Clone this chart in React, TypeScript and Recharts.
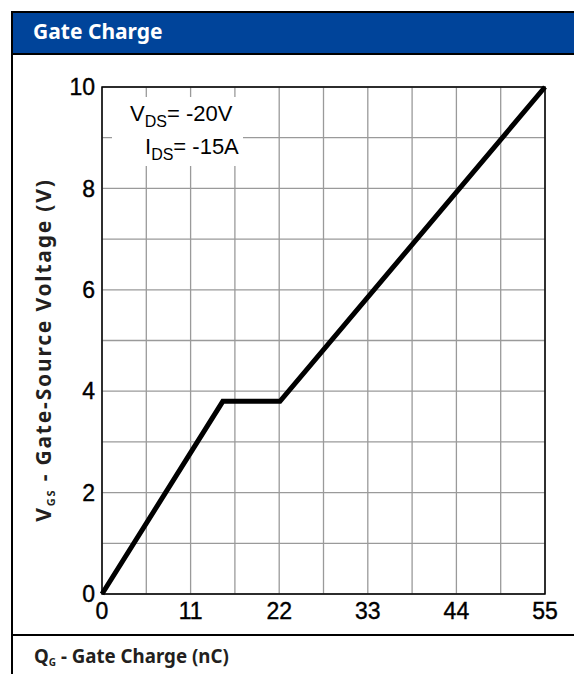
import {
  CartesianGrid,
  Line,
  LineChart,
  ReferenceArea,
  XAxis,
  YAxis,
} from 'recharts';

// Q_G (nC) vs V_GS (V)
const chargeNc = [0, 15, 22.1, 55];
const gateVolts = [0, 3.8, 3.8, 10];

// grid lines every 5.5 nC / 1 V, labels every 11 nC / 2 V
const xGridTicks = [0, 5.5, 11, 16.5, 22, 27.5, 33, 38.5, 44, 49.5, 55];
const xLabels = [0, 11, 22, 33, 44, 55];
const yGridTicks = [0, 1, 2, 3, 4, 5, 6, 7, 8, 9, 10];
const yLabels = [0, 2, 4, 6, 8, 10];

const data = chargeNc.map((q, i) => ({ q, v: gateVolts[i] }));

const ARIAL = '"Liberation Sans", Arial, sans-serif';
const SANS = '"Noto Sans", "Open Sans", sans-serif';

const tickStyle = {
  fontSize: 23,
  fill: '#000',
  stroke: '#000',
  strokeWidth: 0.4,
  fontFamily: ARIAL,
};

const subStyle = { fontSize: 16, verticalAlign: -6, lineHeight: 0 };

const App = () => {
  return (
    <div
      style={{
        position: 'absolute',
        left: 0,
        top: 0,
        width: 574,
        height: 674,
        background: '#fff',
        overflow: 'hidden',
        fontFamily: SANS,
      }}
    >
      {/* frame */}
      <div
        style={{
          position: 'absolute',
          left: 11,
          top: 11,
          width: 580,
          height: 700,
          borderLeft: '2px solid #000',
          borderTop: '2px solid #000',
        }}
      />
      <div
        style={{
          position: 'absolute',
          left: 13,
          top: 13,
          width: 570,
          height: 40,
          background: '#00449a',
          borderBottom: '2px solid #000',
        }}
      />
      <div
        style={{
          position: 'absolute',
          left: 33,
          top: 15,
          color: '#fff',
          fontWeight: 700,
          fontSize: 21,
          lineHeight: '32px',
        }}
      >
        Gate Charge
      </div>
      <div
        style={{
          position: 'absolute',
          left: 13,
          top: 634,
          width: 570,
          height: 2,
          background: '#000',
        }}
      />
      <div
        style={{
          position: 'absolute',
          left: 34,
          top: 643,
          color: '#231f20',
          fontWeight: 700,
          fontSize: 18.7,
          lineHeight: '26px',
          whiteSpace: 'nowrap',
        }}
      >
        Q<span style={{ fontSize: 10, verticalAlign: -3, lineHeight: 0 }}>G</span> - Gate Charge (nC)
      </div>

      <LineChart
        width={574}
        height={674}
        data={data}
        margin={{ top: 87, right: 29, bottom: 50, left: 42 }}
        style={{ position: 'absolute', left: 0, top: 0 }}
      >
        <CartesianGrid stroke="#9a9a9a" strokeWidth={1.3} />
        <XAxis
          dataKey="q"
          type="number"
          domain={[0, 55]}
          ticks={xGridTicks}
          interval={0}
          tickFormatter={(t: number) => (xLabels.includes(t) ? String(t) : '')}
          axisLine={false}
          tickLine={false}
          tickSize={0}
          tickMargin={9}
          height={30}
          tick={tickStyle}
        />
        <YAxis
          type="number"
          domain={[0, 10]}
          ticks={yGridTicks}
          interval={0}
          tickFormatter={(t: number) => (yLabels.includes(t) ? String(t) : '')}
          axisLine={false}
          tickLine={false}
          tickSize={0}
          tickMargin={7}
          width={60}
          tick={tickStyle}
        />
        <ReferenceArea
          x1={0}
          x2={55}
          y1={0}
          y2={10}
          fill="none"
          stroke="#000"
          strokeWidth={1.5}
        />
        <Line
          type="linear"
          dataKey="v"
          stroke="#000"
          strokeWidth={5}
          dot={false}
          isAnimationActive={false}
        />
      </LineChart>

      {/* y axis title */}
      <svg
        width={80}
        height={674}
        style={{ position: 'absolute', left: 0, top: 0 }}
      >
        <text
          x={0}
          y={0}
          transform="translate(51 350) rotate(-90)"
          textAnchor="middle"
          fontFamily={SANS}
          fontWeight={700}
          fontSize={21}
          letterSpacing={1.8}
          fill="#231f20"
        >
          V
          <tspan fontSize={11} dy={4}>
            GS
          </tspan>
          <tspan dy={-4}> - Gate-Source Voltage (V)</tspan>
        </text>
      </svg>

      {/* test conditions */}
      <div
        style={{
          position: 'absolute',
          left: 112,
          top: 97,
          width: 131,
          height: 69,
          background: '#fff',
          fontFamily: ARIAL,
          fontSize: 22,
          color: '#000',
          whiteSpace: 'nowrap',
        }}
      >
        <div style={{ position: 'absolute', left: 18, top: 0, lineHeight: '34px' }}>
          V<span style={subStyle}>DS</span>= -20V
        </div>
        <div style={{ position: 'absolute', left: 33, top: 33, lineHeight: '34px' }}>
          I<span style={subStyle}>DS</span>= -15A
        </div>
      </div>
    </div>
  );
};

export default App;
